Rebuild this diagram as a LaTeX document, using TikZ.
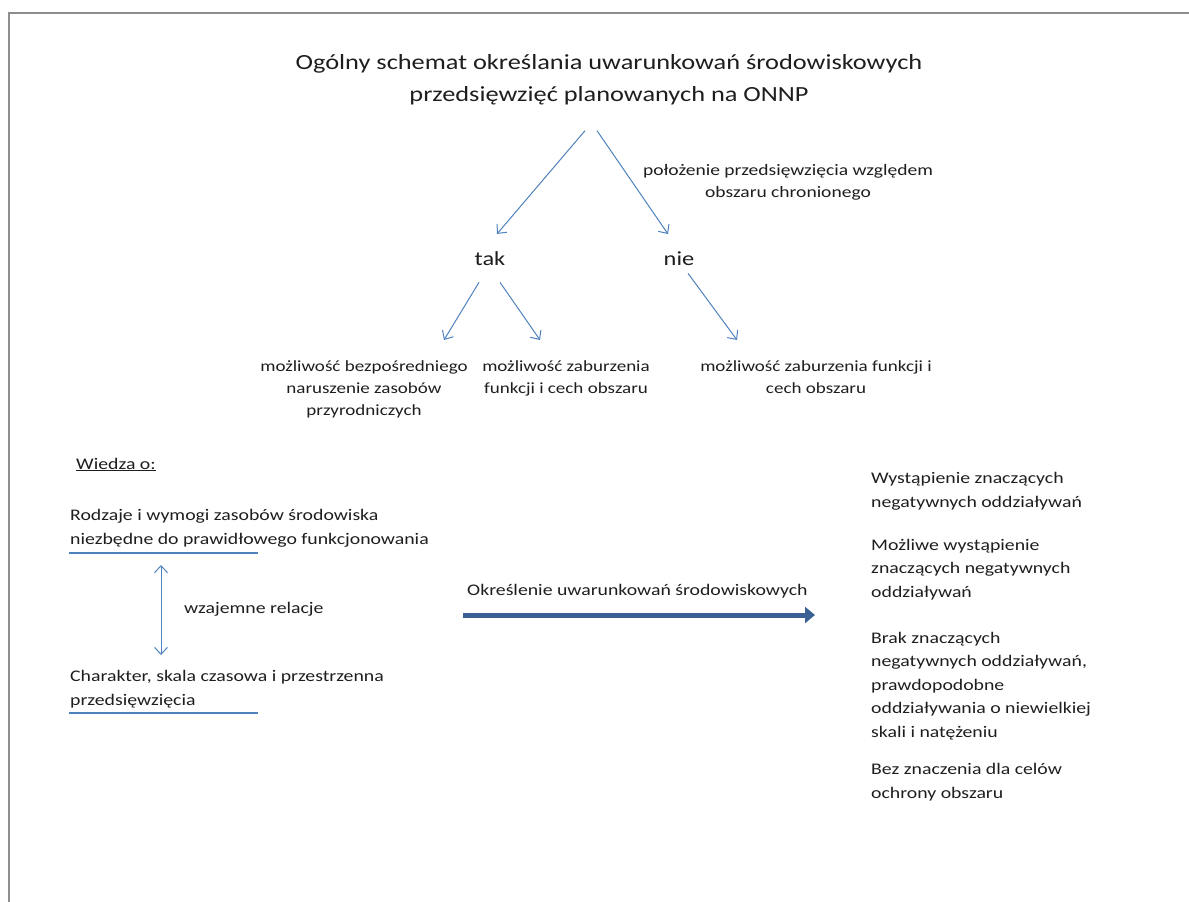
\documentclass[tikz,border=0pt]{standalone}
\usepackage{fontspec}
\setmainfont{Carlito}[FakeStretch=1.22]
\usepackage{xcolor}
\usetikzlibrary{arrows.meta,positioning}
\definecolor{lineblue}{HTML}{4F81BD}
\definecolor{darkblue}{HTML}{3A6094}
\definecolor{framegray}{HTML}{8E8E8E}
\definecolor{inkx}{HTML}{1E1E1E}
\tikzset{
  ar/.style={-{Straight Barb[length=7pt,width=13pt]},lineblue,line width=1pt},
  dar/.style={{Straight Barb[length=7pt,width=13pt]}-{Straight Barb[length=7pt,width=13pt]},lineblue,line width=1pt},
  bigar/.style={-{Triangle[length=10pt,width=16pt]},darkblue,line width=5pt},
  headtxt/.style={font=\fontsize{21.6}{32}\selectfont,text=inkx,inner sep=0pt,align=center},
  yesno/.style={font=\fontsize{20}{24}\selectfont,text=inkx,inner xsep=0pt,inner ysep=17pt},
  txt/.style={font=\fontsize{16}{22}\selectfont,text=inkx,inner sep=0pt,align=center},
  btxt/.style={txt,font=\fontsize{15.6}{22}\selectfont},
  ltxt/.style={font=\fontsize{16.2}{23.4}\selectfont,text=inkx,inner sep=0pt,align=left,anchor=base west}
}
\begin{document}
\begin{tikzpicture}[x=1pt,y=-1pt]
\useasboundingbox (0,0) rectangle (1189,902);
\draw[framegray,line width=1.2pt] (9,902)--(9,13)--(1189,13);
% title and first split
\node[headtxt,anchor=base] (title) at (609,101) {Ogólny schemat określania uwarunkowań środowiskowych\\przedsięwzięć planowanych na ONNP};
\node[txt,anchor=base] (loc) at (788,197) {położenie przedsięwzięcia względem\\obszaru chronionego};
\node[yesno,anchor=base] (tak) at (490,265) {tak};
\node[yesno,anchor=base] (nie) at (679,265) {nie};
\draw[ar] ([xshift=-24pt,yshift=-26pt]title.south) -- ([xshift=7pt]tak.north);
\draw[ar] ([xshift=-12pt,yshift=-26pt]title.south) -- ([xshift=-11pt]nie.north);
% effects
\node[btxt,anchor=base] (b1) at (364,415) {możliwość bezpośredniego\\naruszenie zasobów\\przyrodniczych};
\node[btxt,anchor=base] (b2) at (566,393) {możliwość zaburzenia\\funkcji i cech obszaru};
\node[btxt,anchor=base] (b3) at (816,393) {możliwość zaburzenia funkcji i\\cech obszaru};
\draw[ar] ([xshift=-11pt]tak.south) -- ([xshift=80pt,yshift=20pt]b1.north);
\draw[ar] ([xshift=10pt]tak.south) -- ([xshift=-26pt,yshift=20pt]b2.north);
\draw[ar] ([xshift=9pt,yshift=9pt]nie.south) -- ([xshift=-79pt,yshift=20pt]b3.north);
% knowledge
\node[ltxt] (wiedza) at (76,469) {\underline{Wiedza o:}};
\node[ltxt] (rodz) at (70,544) {Rodzaje i wymogi zasobów środowiska\\niezbędne do prawidłowego funkcjonowania};
\node[ltxt] (char) at (70,705) {Charakter, skala czasowa i przestrzenna\\przedsięwzięcia};
\node[ltxt] (rel) at (184,613) {wzajemne relacje};
\coordinate (u1) at (69,553);
\coordinate (u2) at (69,713);
\draw[lineblue,line width=1.3pt] (u1) -- ++(189,0);
\draw[lineblue,line width=1.3pt] (u2) -- ++(189,0);
\draw[dar] ([xshift=92pt,yshift=-12pt]u1) -- ([xshift=92pt,yshift=58pt]u2);
% conclusion
\node[ltxt] (okr) at (467,595) {Określenie uwarunkowań środowiskowych};
\coordinate (ka) at (463,615);
\coordinate (kb) at (815,615);
\draw[bigar] (ka) -- (kb);
\node[ltxt] (r1) at (871,507) {Wystąpienie znaczących\\negatywnych oddziaływań};
\node[ltxt] (r2) at (871,597) {Możliwe wystąpienie\\znaczących negatywnych\\oddziaływań};
\node[ltxt] (r3) at (871,737) {Brak znaczących\\negatywnych oddziaływań,\\prawdopodobne\\oddziaływania o niewielkiej\\skali i natężeniu};
\node[ltxt] (r4) at (871,798) {Bez znaczenia dla celów\\ochrony obszaru};
\end{tikzpicture}
\end{document}
